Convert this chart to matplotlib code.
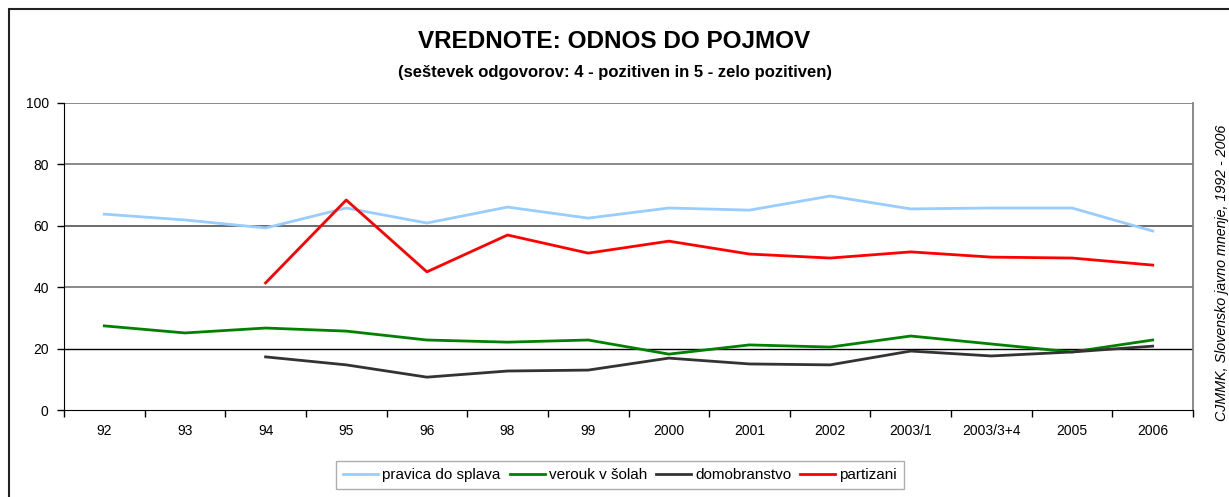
import numpy as np
import matplotlib
matplotlib.use("Agg")
import matplotlib.pyplot as plt
from matplotlib.patches import Rectangle

plt.rcParams['font.family'] = ['Liberation Sans', 'DejaVu Sans']

years = ["92", "93", "94", "95", "96", "98", "99", "2000", "2001", "2002",
         "2003/1", "2003/3+4", "2005", "2006"]
nan = np.nan
pravica = [63.8, 61.9, 59.3, 65.8, 60.9, 66.1, 62.5, 65.8, 65.1, 69.7, 65.5, 65.8, 65.8, 58.3]
verouk = [27.4, 25.1, 26.7, 25.7, 22.8, 22.1, 22.8, 18.2, 21.2, 20.5, 24.1, 21.5, 18.9, 22.8]
domobranstvo = [nan, nan, 17.3, 14.7, 10.7, 12.7, 13.0, 16.9, 15.0, 14.7, 19.2, 17.6, 18.9, 20.8]
partizani = [nan, nan, 41.4, 68.4, 45.0, 57.0, 51.1, 55.0, 50.8, 49.5, 51.5, 49.8, 49.5, 47.2]

fig = plt.figure(figsize=(12.29, 4.97), dpi=100, facecolor='white')

# outer frame (only top and left edges visible in the reference)
fig.patches.append(Rectangle((9 / 1229, -0.1), 1.2, (497 - 9) / 497 + 0.1,
                             transform=fig.transFigure, fill=False,
                             edgecolor='#222222', linewidth=1.5))

axes = fig.add_axes([64 / 1229, (497 - 410) / 497, (1193 - 64) / 1229, (410 - 103) / 497])
x = np.arange(len(years))

# gridlines
for v, c, w in [(20, '#000000', 1.0), (40, '#808080', 1.3), (60, '#444444', 1.1),
                (80, '#808080', 1.3), (100, '#808080', 1.3)]:
    axes.axhline(v, color=c, linewidth=w, zorder=1)

axes.plot(x, pravica, color='#99CCFF', linewidth=2.0, label='pravica do splava', zorder=3)
axes.plot(x, verouk, color='#008000', linewidth=2.0, label='verouk v šolah', zorder=3)
axes.plot(x, domobranstvo, color='#333333', linewidth=2.0, label='domobranstvo', zorder=3)
axes.plot(x, partizani, color='#FF0000', linewidth=2.0, label='partizani', zorder=3)

axes.set_xlim(-0.5, len(years) - 0.5)
axes.set_ylim(0, 100)
axes.set_yticks([0, 20, 40, 60, 80, 100])
axes.set_xticks(np.arange(len(years) + 1) - 0.5)
axes.set_xticklabels([])
axes.set_xticks(x, minor=True)
axes.set_xticklabels(years, minor=True)
axes.tick_params(axis='x', which='major', direction='out', length=5, width=1, color='black')
axes.tick_params(axis='x', which='minor', length=0, pad=10, labelsize=10)
axes.tick_params(axis='y', direction='out', length=5, width=1, labelsize=10, pad=6)

axes.spines['left'].set_color('black')
axes.spines['bottom'].set_color('black')
axes.spines['top'].set_visible(False)
axes.spines['right'].set_color('#808080')
axes.spines['right'].set_linewidth(1.3)

fig.text(0.5, 1 - 42 / 497, 'VREDNOTE: ODNOS DO POJMOV', ha='center', va='center',
         fontsize=17.5, fontweight='bold')
fig.text(0.5, 1 - 73 / 497, '(seštevek odgovorov: 4 - pozitiven in 5 - zelo pozitiven)',
         ha='center', va='center', fontsize=12, fontweight='bold')
fig.text(1222 / 1229, 1 - 273 / 497, 'CJMMK, Slovensko javno mnenje, 1992 - 2006',
         rotation=90, ha='center', va='center', fontsize=10.3, style='italic')

leg = fig.legend(loc='center', bbox_to_anchor=(620 / 1229, 1 - 475 / 497), ncol=4,
                 fontsize=11, frameon=True, fancybox=False, handlelength=2.3,
                 handletextpad=0.25, columnspacing=0.6, borderpad=0.45)
leg.get_frame().set_edgecolor('#999999')
leg.get_frame().set_linewidth(1.0)

fig.savefig('out.png', dpi=100, facecolor='white')
